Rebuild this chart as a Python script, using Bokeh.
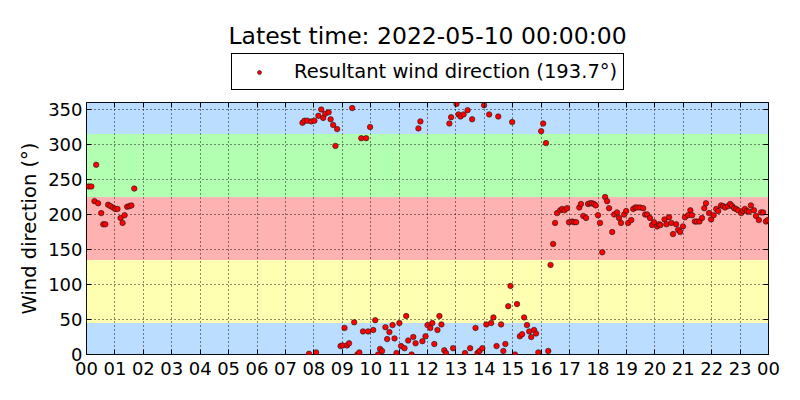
from bokeh.plotting import figure
from bokeh.layouts import column
from bokeh.models import (BoxAnnotation, Legend, LegendItem, LinearAxis, FixedTicker,
                          Label, Range1d, ColumnDataSource)
from bokeh.embed import file_html
from bokeh.resources import INLINE

# ---------------- data ----------------
title_text = "Latest time: 2022-05-10 00:00:00"
series_name = "Resultant wind direction (193.7°)"
y_label = "Wind direction (°)"

hours = [
    0.08, 0.17, 0.28, 0.34, 0.41, 0.52, 0.59, 0.66, 0.76, 0.84, 0.93, 1.01, 1.09, 1.20, 1.27,
    1.34, 1.43, 1.51, 1.58, 1.68,
    7.60, 7.67, 7.77, 7.83, 7.91, 8.02, 8.08, 8.16, 8.26, 8.33, 8.40, 8.52, 8.59, 8.68, 8.76,
    8.82, 8.94, 9.01, 9.08, 9.17, 9.24, 9.35, 9.42, 9.53, 9.60, 9.67, 9.73, 9.84, 9.91, 9.98,
    10.09, 10.16, 10.26, 10.33, 10.40, 10.52, 10.58, 10.66, 10.77, 10.84, 10.91, 11.01, 11.07,
    11.19, 11.25, 11.32, 11.44, 11.50, 11.58, 11.68, 11.75, 11.82, 11.93, 12.00, 12.10, 12.17,
    12.24, 12.35, 12.42, 12.49, 12.59, 12.65, 12.77, 12.83, 12.90, 13.02, 13.09, 13.16, 13.27,
    13.32, 13.41, 13.50, 13.57, 13.69, 13.76, 13.83, 13.93, 13.99, 14.07, 14.17, 14.24, 14.32,
    14.43, 14.49, 14.59, 14.67, 14.74, 14.84, 14.92, 14.98, 15.08, 15.15, 15.25, 15.33, 15.40,
    15.50, 15.58, 15.65, 15.75, 15.82, 15.90, 16.00, 16.07, 16.17, 16.25, 16.33, 16.42, 16.49,
    16.56, 16.67, 16.74, 16.82, 16.91, 16.98, 17.09, 17.16, 17.23, 17.34, 17.40, 17.48, 17.58,
    17.65, 17.72, 17.79, 17.86, 17.92, 18.00, 18.07, 18.15, 18.25, 18.32, 18.39, 18.50, 18.57,
    18.67, 18.74, 18.81, 18.92, 18.99, 19.06, 19.17, 19.24, 19.31, 19.38, 19.48, 19.59, 19.66,
    19.73, 19.83, 19.90, 19.97, 20.08, 20.15, 20.20, 20.34, 20.41, 20.50, 20.58, 20.64, 20.75,
    20.82, 20.89, 20.99, 21.06, 21.17, 21.25, 21.31, 21.41, 21.48, 21.57, 21.66, 21.74, 21.80,
    21.91, 21.98, 22.07, 22.16, 22.23, 22.33, 22.40, 22.47, 22.58, 22.65, 22.72, 22.79, 22.86,
    22.93, 23.04, 23.10, 23.17, 23.24, 23.31, 23.38, 23.49, 23.56, 23.66, 23.74, 23.81, 23.91,
    23.97,
]
direction = [
    240, 240, 219, 271, 216, 202, 186, 186, 214, 212, 210, 208, 208, 195, 188,
    199, 211, 212, 213, 237,
    331, 334, 334, 1, 333, 334, 3, 341, 350, 338, 344, 346, 336, 328, 298,
    322, 12, 13, 38, 13, 16, 352, 46, 0, 3, 309, 33, 309, 33, 325,
    35, 49, 0, 8, 5, 39, 22, 32, 42, 23, 2, 45, 12,
    9, 55, 20, 0, 25, 16, 323, 333, 19, 26, 42, 38, 45,
    15, 35, 55, 43, 6, 2, 330, 339, 9, 358, 343, 340, 343,
    2, 349, 9, 336, 38, 2, 5, 9, 356, 43, 343, 45, 53,
    12, 340, 43, 5, 15, 69, 98, 332, 0, 72, 26, 29, 53,
    42, 33, 25, 35, 30, 3, 319, 330, 302, 5, 128, 158, 188,
    202, 206, 208, 206, 209, 189, 190, 189, 189, 210, 215, 198, 195,
    215, 216, 216, 215, 213, 199, 188, 146, 225, 219, 209, 175, 200,
    203, 195, 188, 200, 205, 188, 192, 208, 210, 210, 210, 209, 200,
    200, 195, 185, 189, 183, 186, 185, 193, 186, 196, 188, 172, 186,
    178, 175, 183, 196, 199, 206, 199, 190, 190, 190, 195, 209, 216,
    202, 193, 199, 208, 205, 213, 212, 210, 212, 215, 212, 209, 208,
    206, 202, 205, 208, 205, 204, 213, 206, 198, 192, 203, 203, 190,
    192,
]

# sector bands (degrees) and their colours
band_bottoms = [0, 45, 135, 225, 315]
band_tops = [45, 135, 225, 315, 360]
band_colors = ["dodgerblue", "yellow", "red", "lime", "dodgerblue"]

x_ticks = list(range(0, 25))
x_tick_labels = ["%02d" % (h % 24) for h in x_ticks]
y_ticks = [0, 50, 100, 150, 200, 250, 300, 350]

FONT = "DejaVu Sans"
MARKER = dict(size=5.5, fill_color="red", line_color="#1a1a1a", line_width=0.6)

# ---------------- main plot ----------------
p = figure(width=800, height=304, output_backend="svg", toolbar_location=None,
           x_range=Range1d(0, 24), y_range=Range1d(0, 360),
           min_border_left=86, min_border_right=32, min_border_top=6, min_border_bottom=46)
p.background_fill_color = "white"
p.border_fill_color = "white"
p.outline_line_color = "black"
p.outline_line_width = 1
p.outline_line_alpha = 1

for b, t, c in zip(band_bottoms, band_tops, band_colors):
    p.add_layout(BoxAnnotation(bottom=b, top=t, fill_color=c, fill_alpha=0.3,
                               line_color=None, level="image"))

src = ColumnDataSource(dict(x=hours, y=direction))
r = p.scatter("x", "y", source=src, **MARKER)

xa = p.xaxis[0]
xa.ticker = FixedTicker(ticks=x_ticks)
xa.major_label_overrides = {t: l for t, l in zip(x_ticks, x_tick_labels)}
xa.axis_line_color = None
xa.major_tick_in = 5
xa.major_tick_out = 0
xa.minor_tick_line_color = None
xa.major_label_text_font = FONT
xa.major_label_text_font_size = "18px"
xa.major_label_text_color = "black"
xa.major_label_standoff = 7

ya = p.yaxis[0]
ya.ticker = FixedTicker(ticks=y_ticks)
ya.axis_line_color = None
ya.major_tick_in = 5
ya.major_tick_out = 0
ya.minor_tick_line_color = None
ya.major_label_text_font = FONT
ya.major_label_text_font_size = "18px"
ya.major_label_text_color = "black"
ya.major_label_standoff = 4
ya.axis_label = y_label
ya.axis_label_text_font = FONT
ya.axis_label_text_font_size = "19.5px"
ya.axis_label_text_font_style = "normal"
ya.axis_label_text_color = "black"
ya.axis_label_standoff = 4

top_ax = LinearAxis(ticker=FixedTicker(ticks=x_ticks), axis_line_color=None,
                    major_tick_in=5, major_tick_out=0, minor_tick_line_color=None,
                    major_label_text_color=None, major_label_text_font_size="0px",
                    major_label_standoff=0)
right_ax = LinearAxis(ticker=FixedTicker(ticks=y_ticks), axis_line_color=None,
                      major_tick_in=5, major_tick_out=0, minor_tick_line_color=None,
                      major_label_text_color=None, major_label_text_font_size="0px",
                      major_label_standoff=0)
p.add_layout(top_ax, "above")
p.add_layout(right_ax, "right")

p.xgrid.ticker = FixedTicker(ticks=x_ticks)
p.ygrid.ticker = FixedTicker(ticks=y_ticks)
for g in (p.xgrid[0], p.ygrid[0]):
    g.grid_line_color = "black"
    g.grid_line_dash = "1 3"
    g.grid_line_width = 1
    g.grid_line_alpha = 0.9
    g.level = "underlay"

# ---------------- header (title + legend), frame aligned with the plot ----------------
HEAD_H = 96
HEAD_Y0 = 400  # header shows y from 400 upward, so the series markers stay out of view
head = figure(width=800, height=HEAD_H, output_backend="svg", toolbar_location=None,
              x_range=p.x_range, y_range=Range1d(HEAD_Y0, HEAD_Y0 + HEAD_H),
              x_axis_location=None, y_axis_location=None,
              min_border_left=86, min_border_right=32, min_border_top=0, min_border_bottom=0)
head.outline_line_color = None
head.grid.visible = False
head.background_fill_color = "white"
head.border_fill_color = "white"

head.add_layout(Label(x=12, y=HEAD_Y0 + HEAD_H - 35, text=title_text, text_font=FONT,
                      text_font_size="23.5px", text_align="center", text_baseline="middle",
                      text_color="black"))

# legend key uses the same series and marker style (markers themselves fall outside the header)
key = head.scatter("x", "y", source=src, **MARKER)
legend = Legend(items=[LegendItem(label=series_name, renderers=[key])],
                location=(145, HEAD_H - 90), orientation="vertical",
                label_text_font=FONT, label_text_font_size="19.5px", label_text_color="black",
                glyph_width=42, glyph_height=10, label_height=20, label_standoff=14,
                padding=6, margin=0, spacing=0,
                border_line_color="black", border_line_width=1, border_line_alpha=1,
                background_fill_color="white", background_fill_alpha=1)
head.add_layout(legend, "center")

layout = column(head, p, spacing=0)
open("out.html", "w").write(file_html(layout, INLINE))
